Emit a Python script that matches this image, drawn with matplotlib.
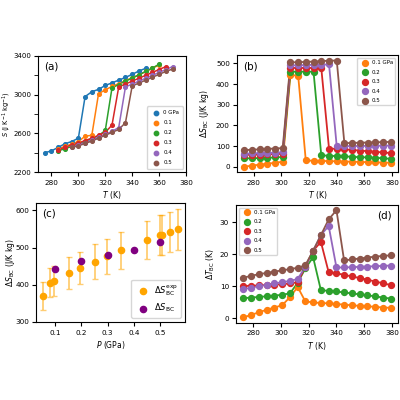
import numpy as np
import matplotlib
matplotlib.use("Agg")
import matplotlib.pyplot as plt
from matplotlib.ticker import MultipleLocator

plt.rcParams['font.size'] = 5.5
plt.rcParams['xtick.labelsize'] = 5.2
plt.rcParams['ytick.labelsize'] = 5.2
plt.rcParams['axes.linewidth'] = 0.8
plt.rcParams['xtick.major.size'] = 3
plt.rcParams['ytick.major.size'] = 3
plt.rcParams['xtick.major.pad'] = 2.5
plt.rcParams['ytick.major.pad'] = 2
plt.rcParams['axes.labelpad'] = 2.5

# ---- panel (a): S(T) at each pressure, 5 K steps
a_labels = ['0 GPa', '0.1', '0.2', '0.3', '0.4', '0.5']
a_T = [
    [275, 280, 285, 290, 295, 300, 305, 310, 315, 320, 325, 330, 335, 340, 345, 350],
    [285, 290, 295, 300, 305, 310, 315, 320, 325, 330, 335, 340, 345, 350, 355, 360],
    [285, 290, 295, 300, 305, 310, 315, 320, 325, 330, 335, 340, 345, 350, 355, 360],
    [285, 290, 295, 300, 305, 310, 315, 320, 325, 330, 335, 340, 345, 350, 355, 360, 365],
    [295, 300, 305, 310, 315, 320, 325, 330, 335, 340, 345, 350, 355, 360, 365, 370],
    [295, 300, 305, 310, 315, 320, 325, 330, 335, 340, 345, 350, 355, 360, 365, 370],
]
a_S = [
    [2400, 2418, 2455, 2492, 2515, 2550, 2980, 3030, 3055, 3095, 3122, 3150, 3178, 3210, 3245, 3272],
    [2440, 2465, 2490, 2515, 2570, 2580, 3010, 3050, 3085, 3115, 3145, 3175, 3205, 3240, 3275, 3305],
    [2420, 2440, 2465, 2490, 2515, 2545, 2575, 2630, 3070, 3105, 3140, 3170, 3205, 3240, 3275, 3315],
    [2430, 2455, 2480, 2500, 2525, 2550, 2580, 2610, 2685, 3080, 3110, 3140, 3170, 3200, 3230, 3260, 3290],
    [2460, 2480, 2505, 2530, 2560, 2590, 2620, 2660, 3080, 3110, 3140, 3170, 3200, 3230, 3260, 3290],
    [2455, 2470, 2495, 2520, 2550, 2580, 2610, 2640, 2710, 3090, 3120, 3150, 3180, 3210, 3240, 3265],
]
a_yticks = [2200, 2600, 3000, 3400]

# ---- panels (b) and (d): common temperature grid
T_bd = [273.0, 278.6, 284.2, 289.7, 295.3, 300.9, 306.5, 312.1, 317.6, 323.2,
        328.8, 334.4, 340.0, 345.5, 351.1, 356.7, 362.3, 367.9, 373.4, 379.0]
p_labels = ['0.1 GPa', '0.2', '0.3', '0.4', '0.5']

dS_bc = [
    [0, 5, 10, 14, 19, 24, 445, 440, 30, 29, 28, 27, 26, 25, 24, 23, 22, 21, 20, 19],
    [40, 41, 42, 43, 45, 47, 460, 460, 460, 460, 55, 53, 51, 50, 48, 46, 45, 43, 41, 38],
    [57, 58, 59, 60, 61, 62, 478, 478, 478, 478, 478, 88, 86, 84, 81, 78, 75, 72, 69, 66],
    [63, 64, 66, 67, 68, 70, 490, 491, 492, 493, 494, 495, 98, 99, 100, 100, 101, 101, 102, 102],
    [80, 82, 84, 86, 88, 90, 505, 506, 507, 509, 511, 513, 514, 114, 115, 116, 117, 118, 119, 120],
]

dT_bc = [
    [0.2, 1.0, 1.8, 2.6, 3.3, 4.0, 6.5, 9.7, 5.2, 4.9, 4.7, 4.6, 4.4, 4.2, 4.0, 3.8, 3.7, 3.5, 3.3, 3.2],
    [6.2, 6.4, 6.6, 6.8, 7.0, 7.3, 7.7, 11.0, 15.5, 19.0, 8.7, 8.5, 8.3, 8.0, 7.7, 7.4, 7.1, 6.8, 6.4, 6.1],
    [10.0, 10.1, 10.2, 10.3, 10.4, 10.6, 10.8, 11.2, 16.0, 21.0, 23.8, 14.3, 14.0, 13.5, 13.0, 12.5, 12.0, 11.4, 10.9, 10.3],
    [9.0, 9.5, 10.0, 10.4, 10.8, 11.2, 11.6, 12.2, 16.0, 21.0, 25.9, 28.8, 15.8, 15.8, 15.9, 16.0, 16.1, 16.2, 16.3, 16.4],
    [12.6, 13.2, 13.7, 14.1, 14.5, 14.9, 15.3, 15.7, 16.5, 21.0, 25.9, 30.8, 33.7, 18.0, 18.3, 18.6, 18.9, 19.2, 19.4, 19.6],
]

# ---- panel (c): barocaloric entropy change vs pressure
P_exp = [0.053, 0.081, 0.094, 0.153, 0.195, 0.253, 0.296, 0.353, 0.452, 0.500, 0.509, 0.538, 0.570]
dS_exp = [370, 406, 411, 431, 445, 462, 476, 492, 520, 534, 534, 541, 549]
dS_err = [37, 40, 40, 43, 44, 47, 47, 49, 52, 54, 54, 54, 55]
P_calc = [0.1, 0.2, 0.3, 0.4, 0.5]
dS_calc = [443, 463, 481, 494, 514]

a_colors = ['C0', 'C1', 'C2', 'C3', 'C4', 'C5']
bd_colors = ['C1', 'C2', 'C3', 'C4', 'C5']

fig = plt.figure(figsize=(4, 4), dpi=100)
ax_a = fig.add_axes([0.095, 0.57, 0.37, 0.29])
ax_b = fig.add_axes([0.592, 0.57, 0.403, 0.292])
ax_c = fig.add_axes([0.09, 0.195, 0.373, 0.298])
ax_d = fig.add_axes([0.59, 0.193, 0.405, 0.295])

# (a)
for T, S, c, lab in zip(a_T, a_S, a_colors, a_labels):
    ax_a.plot(T, S, '-', color=c, lw=1.1)
    ax_a.scatter(T, S, color=c, s=7, zorder=3, label=lab)
ax_a.set_xlim(270, 380)
ax_a.set_ylim(2200, 3400)
ax_a.xaxis.set_major_locator(MultipleLocator(20))
ax_a.set_yticks(a_yticks)
ax_a.yaxis.set_minor_locator(MultipleLocator(200))
ax_a.tick_params(which='minor', length=3)
ax_a.tick_params(axis='y', labelsize=5)
ax_a.set_xlabel('$T$ (K)')
ax_a.set_ylabel('$S$ (J K$^{-1}$ kg$^{-1}$)', fontsize=4.8)
ax_a.yaxis.set_label_coords(-0.172, 0.5)
ax_a.text(0.04, 0.95, '(a)', transform=ax_a.transAxes, fontsize=7.5, va='top')
ax_a.legend(loc='lower right', fontsize=4, handletextpad=0.3, markerscale=1.2,
            labelspacing=0.9, borderpad=0.7)

# (b)
for y, c, lab in zip(dS_bc, bd_colors, p_labels):
    ax_b.plot(T_bd, y, '-', color=c, lw=1.3)
    ax_b.scatter(T_bd, y, color=c, s=18, zorder=3, label=lab)
ax_b.xaxis.set_major_locator(MultipleLocator(20))
ax_b.yaxis.set_major_locator(MultipleLocator(100))
ax_b.set_xlabel('$T$ (K)')
ax_b.set_ylabel(r'$\Delta S_{\rm BC}$ (J/K kg)')
ax_b.yaxis.set_label_coords(-0.16, 0.5)
ax_b.text(0.04, 0.95, '(b)', transform=ax_b.transAxes, fontsize=7.5, va='top')
ax_b.legend(loc='upper right', fontsize=4, handletextpad=0.3, labelspacing=0.8)

# (c)
ax_c.errorbar(P_exp, dS_exp, yerr=dS_err, fmt='none', ecolor='orange', alpha=0.55,
              elinewidth=1.3, capsize=2.5, capthick=1)
ax_c.scatter(P_exp, dS_exp, color='orange', s=20, zorder=3, label=r'$\Delta S_{\rm BC}^{\rm exp}$')
ax_c.scatter(P_calc, dS_calc, color='purple', s=20, zorder=4, label=r'$\Delta S_{\rm BC}$')
ax_c.set_ylim(300, 620)
ax_c.xaxis.set_major_locator(MultipleLocator(0.1))
ax_c.yaxis.set_major_locator(MultipleLocator(100))
ax_c.set_xlabel('$P$ (GPa)')
ax_c.set_ylabel(r'$\Delta S_{\rm BC}$ (J/K kg)')
ax_c.yaxis.set_label_coords(-0.13, 0.5)
ax_c.text(0.04, 0.95, '(c)', transform=ax_c.transAxes, fontsize=7.5, va='top')
ax_c.legend(loc='lower right', fontsize=6, handletextpad=0.3)

# (d)
for y, c, lab in zip(dT_bc, bd_colors, p_labels):
    ax_d.plot(T_bd, y, '-', color=c, lw=1.3)
    ax_d.scatter(T_bd, y, color=c, s=18, zorder=3, label=lab)
ax_d.xaxis.set_major_locator(MultipleLocator(20))
ax_d.yaxis.set_major_locator(MultipleLocator(10))
ax_d.set_xlabel('$T$ (K)')
ax_d.set_ylabel(r'$\Delta T_{\rm BC}$ (K)')
ax_d.yaxis.set_label_coords(-0.12, 0.5)
ax_d.text(0.96, 0.95, '(d)', transform=ax_d.transAxes, fontsize=7.5, va='top', ha='right')
ax_d.legend(loc='upper left', fontsize=4, handletextpad=0.3, labelspacing=0.8)

fig.savefig('out.png', dpi=100)
